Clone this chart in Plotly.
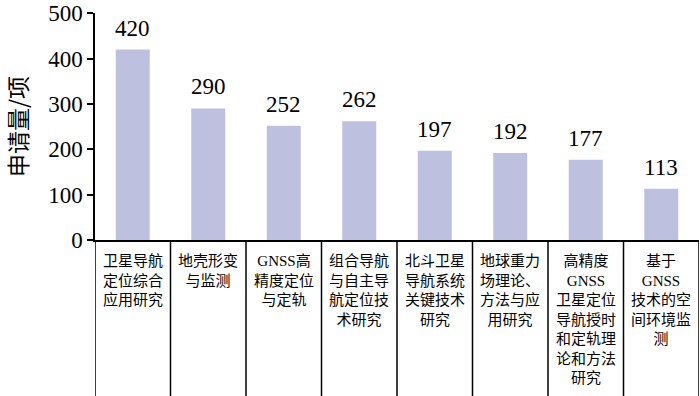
import plotly.graph_objects as go

categories = [
    "卫星导航<br>定位综合<br>应用研究",
    "地壳形变<br>与监测",
    "GNSS高<br>精度定位<br>与定轨",
    "组合导航<br>与自主导<br>航定位技<br>术研究",
    "北斗卫星<br>导航系统<br>关键技术<br>研究",
    "地球重力<br>场理论、<br>方法与应<br>用研究",
    "高精度<br>GNSS<br>卫星定位<br>导航授时<br>和定轨理<br>论和方法<br>研究",
    "基于<br>GNSS<br>技术的空<br>间环境监<br>测",
]
values = [420, 290, 252, 262, 197, 192, 177, 113]
y_ticks = [0, 100, 200, 300, 400, 500]
y_title = "申请量/项"

FONT = "Liberation Serif, Times New Roman, Noto Sans CJK SC, serif"
x_idx = list(range(len(categories)))

fig = go.Figure()
fig.add_trace(go.Bar(
    x=x_idx, y=values,
    marker=dict(color="#bdc1df", line=dict(width=0)),
    width=0.45,
    hoverinfo="skip",
))

annotations = []
for i, v in zip(x_idx, values):
    annotations.append(dict(
        x=i, y=v, xref="x", yref="y", text=str(v), showarrow=False,
        yanchor="bottom", yshift=7, font=dict(family=FONT, size=23, color="black"),
    ))
for i, c in zip(x_idx, categories):
    annotations.append(dict(
        x=i, y=0, xref="x", yref="paper", text=c, showarrow=False,
        yanchor="top", xanchor="center", yshift=-11, align="center",
        font=dict(family=FONT, size=15, color="black"),
    ))

shapes = []
for b in [i - 0.5 for i in x_idx] + [len(categories) - 0.5]:
    shapes.append(dict(
        type="line", xref="x", yref="paper", x0=b, x1=b, y0=0, y1=-0.7,
        line=dict(color="black", width=1.5),
    ))

fig.update_layout(
    width=700, height=396,
    margin=dict(l=95, r=1, t=13, b=156),
    paper_bgcolor="white", plot_bgcolor="white",
    showlegend=False,
    font=dict(family=FONT, color="black"),
    xaxis=dict(
        range=[-0.5, len(categories) - 0.5], automargin=False,
        showticklabels=False, ticks="", showgrid=False, zeroline=False,
        showline=True, linecolor="black", linewidth=1.5,
    ),
    yaxis=dict(
        range=[0, 500.5], tickvals=y_ticks, ticks="outside", ticklen=6,
        tickwidth=1.5, tickcolor="black", automargin=False,
        ticklabeloverflow="allow",
        showgrid=False, zeroline=False,
        showline=True, linecolor="black", linewidth=1.5,
        tickfont=dict(family=FONT, size=23, color="black"),
        title=dict(text=y_title, font=dict(family="Noto Sans CJK SC", size=23, color="black"), standoff=16),
    ),
    annotations=annotations,
    shapes=shapes,
)

fig.write_html("out.html", config={"displayModeBar": False},
               post_script="document.body.style.margin='0';")
